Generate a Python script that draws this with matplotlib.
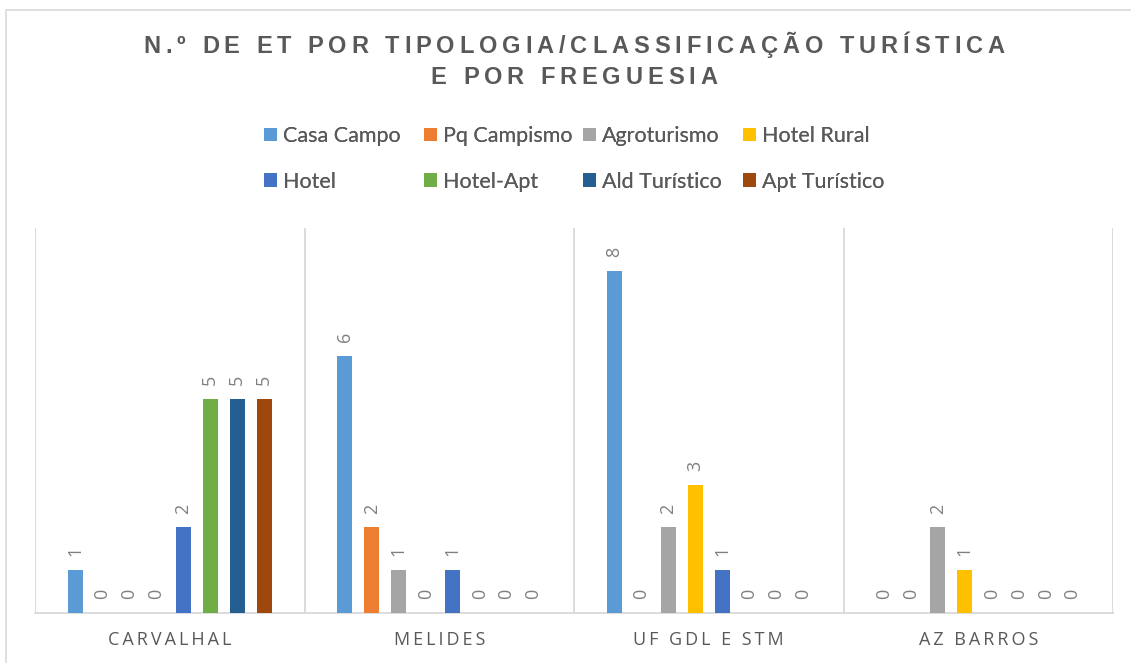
import matplotlib
matplotlib.use("Agg")
import matplotlib.pyplot as plt
from matplotlib.patches import Rectangle, Patch
from matplotlib.textpath import TextToPath
from matplotlib.font_manager import FontProperties
import numpy as np

categories = ["CARVALHAL", "MELIDES", "UF GDL E STM", "AZ BARROS"]
series_names = ["Casa Campo", "Pq Campismo", "Agroturismo", "Hotel Rural",
                "Hotel", "Hotel-Apt", "Ald Turístico", "Apt Turístico"]
casa_campo = [1, 6, 8, 0]
pq_campismo = [0, 2, 0, 0]
agroturismo = [0, 1, 2, 2]
hotel_rural = [0, 0, 3, 1]
hotel = [2, 1, 1, 0]
hotel_apt = [5, 0, 0, 0]
ald_turistico = [5, 0, 0, 0]
apt_turistico = [5, 0, 0, 0]
series_values = [casa_campo, pq_campismo, agroturismo, hotel_rural,
                 hotel, hotel_apt, ald_turistico, apt_turistico]
colors = ["#5B9BD5", "#ED7D31", "#A5A5A5", "#FFC000",
          "#4472C4", "#70AD47", "#255E91", "#9E480E"]
title_lines = ["N.º DE ET POR TIPOLOGIA/CLASSIFICAÇÃO TURÍSTICA", "E POR FREGUESIA"]

W, H = 1131, 663
DPI = 100
fig = plt.figure(figsize=(W / DPI, H / DPI), dpi=DPI)
fig.patch.set_facecolor("white")

_ttp = TextToPath()


def width_px(s, prop):
    if not s:
        return 0.0
    w, h, d = _ttp.get_text_width_height_descent(s, prop, ismath=False)
    return w * DPI / 72.0


def tracked_text(s, cx_px, baseline_px, prop, track_px, color):
    """Draw centred text with extra letter spacing (tracking)."""
    total = width_px(s, prop) + (len(s) - 1) * track_px
    x0 = cx_px - total / 2
    for i, ch in enumerate(s):
        if ch == " ":
            continue
        xi = x0 + width_px(s[:i], prop) + i * track_px
        fig.text(xi / W, 1 - baseline_px / H, ch, ha="left", va="baseline",
                 fontproperties=prop, color=color)


# outer chart border
fig.add_artist(Rectangle((6 / W, -0.01), 1.2, (H - 10) / H + 0.01,
                         transform=fig.transFigure, fill=False,
                         edgecolor="#D9D9D9", linewidth=1.2))

left, right, top, bottom = 35, 1113, 228, 613
ax = fig.add_axes([left / W, (H - bottom) / H, (right - left) / W, (bottom - top) / H])

n = len(series_names)
slot = 0.1
bw = 0.056
x = np.arange(len(categories))
for i, (name, vals, c) in enumerate(zip(series_names, series_values, colors)):
    xs = x + (i - (n - 1) / 2) * slot
    ax.bar(xs, vals, width=bw, color=c, label=name, zorder=3)
    for xx, v in zip(xs, vals):
        ax.annotate(str(v), (xx, v), xytext=(0, 10), textcoords="offset points",
                    rotation=90, ha="center", va="bottom", fontsize=13,
                    color="#808080", family=["Open Sans", "DejaVu Sans"])

ax.set_xlim(-0.5, len(categories) - 0.5)
ax.set_ylim(0, 9)
for b in np.arange(len(categories) + 1) - 0.5:
    ax.axvline(b, color="#D9D9D9", linewidth=1.3, zorder=1)
for s in ["top", "left", "right"]:
    ax.spines[s].set_visible(False)
ax.spines["bottom"].set_color("#D9D9D9")
ax.spines["bottom"].set_linewidth(1.3)
ax.set_yticks([])
ax.set_xticks(x)
ax.set_xticklabels(["\u2009".join(c) for c in categories],
                   fontsize=13, color="#595959",
                   family=["Open Sans", "DejaVu Sans"])
ax.tick_params(axis="x", length=0, pad=13)

# title with letter spacing
title_prop = FontProperties(family=["Liberation Sans", "DejaVu Sans"],
                            weight="bold", size=17)
for k, line in enumerate(title_lines):
    tracked_text(line, 574, 53 + 30.5 * k, title_prop, 4.9, "#595959")

# legend: 4 equal-width columns, 2 rows (row-major order as in the reference)
ncol = 4
col_x = [264, 424, 583, 743]
for j in range(ncol):
    idx = [j, j + ncol]
    hs = [Patch(facecolor=colors[k], edgecolor="none") for k in idx]
    leg = fig.legend(hs, [series_names[k] for k in idx], ncol=1, loc="upper left",
                     bbox_to_anchor=(col_x[j] / W, 1 - 126 / H), frameon=False,
                     prop={"family": "Lato", "size": 15.5},
                     handlelength=0.6, handleheight=0.6, handletextpad=0.3,
                     labelspacing=1.2, borderpad=0, borderaxespad=0)
    for t in leg.get_texts():
        t.set_color("#595959")
    fig.add_artist(leg)

fig.savefig("out.png", dpi=DPI)
